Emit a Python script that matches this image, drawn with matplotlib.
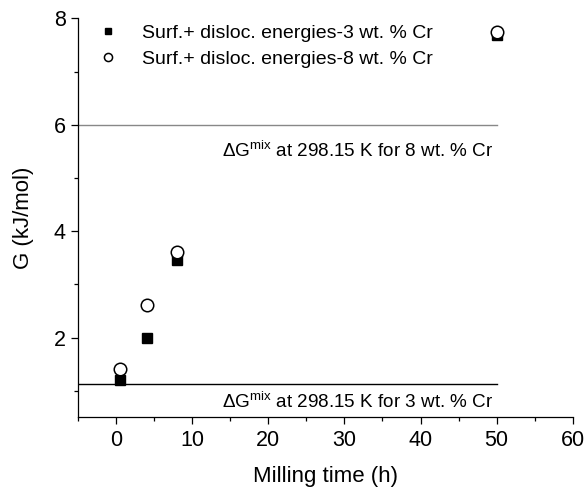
import matplotlib
matplotlib.use("Agg")
import matplotlib.pyplot as plt
from matplotlib.ticker import MultipleLocator

plt.rcParams['font.family'] = ['Liberation Sans', 'DejaVu Sans']
plt.rcParams['mathtext.fontset'] = 'custom'
plt.rcParams['mathtext.rm'] = 'Liberation Sans'
plt.rcParams['mathtext.it'] = 'Liberation Sans'

# Data
time_h = [0.5, 4, 8, 50]
g_3cr = [1.2, 2.0, 3.45, 7.69]
g_8cr = [1.4, 2.61, 3.6, 7.74]
mix_8cr = 6.0
mix_3cr = 1.12
label_3 = "Surf.+ disloc. energies-3 wt. % Cr"
label_8 = "Surf.+ disloc. energies-8 wt. % Cr"
ann_8 = r"$\Delta$G$^{\mathrm{mix}}$ at 298.15 K for 8 wt. % Cr"
ann_3 = r"$\Delta$G$^{\mathrm{mix}}$ at 298.15 K for 3 wt. % Cr"

fig = plt.figure(figsize=(5.87, 4.87), dpi=100)
ax = fig.add_axes([0.1329, 0.1431, 0.9757 - 0.1329, 0.9624 - 0.1431])

ax.plot([-5, 50], [mix_8cr, mix_8cr], color='#888888', lw=1.0, zorder=1)
ax.plot([-5, 50], [mix_3cr, mix_3cr], color='black', lw=1.0, zorder=1)

ax.plot(time_h, g_3cr, ls='none', marker='s', ms=7.5, mfc='black', mec='black',
        mew=1.0, label=label_3, zorder=3)
ax.plot(time_h, g_8cr, ls='none', marker='o', ms=9, mfc='white', mec='black',
        mew=1.1, label=label_8, zorder=4)

ax.text(49.6, 5.40, ann_8, ha='right', va='baseline', fontsize=13.6)
ax.text(49.6, 0.68, ann_3, ha='right', va='baseline', fontsize=13.6)

ax.set_xlim(-5, 60)
ax.set_ylim(0.5, 8)
ax.xaxis.set_major_locator(MultipleLocator(10))
ax.xaxis.set_minor_locator(MultipleLocator(5))
ax.yaxis.set_major_locator(MultipleLocator(2))
ax.yaxis.set_minor_locator(MultipleLocator(1))
ax.set_yticks([2, 4, 6, 8])
ax.tick_params(which='major', direction='out', length=5, width=0.9, labelsize=15.5, pad=4)
ax.tick_params(which='minor', direction='out', length=3, width=0.9)
for s in ['top', 'right']:
    ax.spines[s].set_visible(False)
for s in ['left', 'bottom']:
    ax.spines[s].set_linewidth(0.9)

ax.set_xlabel("Milling time (h)", fontsize=16, labelpad=11)
ax.set_ylabel("G (kJ/mol)", fontsize=16, labelpad=14)

ax.legend(loc='upper left', bbox_to_anchor=(0.005, 1.028), frameon=False, fontsize=14,
          markerscale=0.65, handlelength=1.0, handletextpad=1.25, labelspacing=0.4,
          borderpad=0.4)

fig.savefig("out.png", dpi=100)
